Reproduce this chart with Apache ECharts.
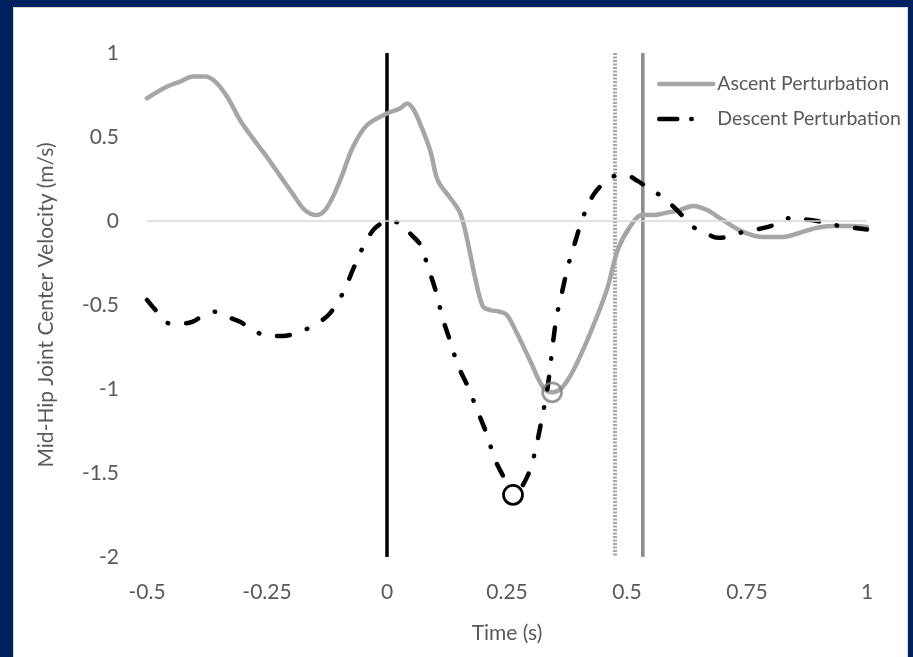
<!DOCTYPE html>
<html>
<head>
<meta charset="utf-8">
<script src="https://cdn.jsdelivr.net/npm/echarts@6/dist/echarts.min.js"></script>
<style>
html,body{margin:0;padding:0;background:#002060;width:913px;height:657px;overflow:hidden;}
#frame{position:absolute;left:13px;top:7px;width:895px;height:650px;background:#d9d9d9;}
#chart{position:absolute;left:14px;top:8px;width:893px;height:649px;background:#ffffff;}
</style>
</head>
<body>
<div id="frame"></div>
<div id="chart"></div>
<script>
// ---- data ----
var seriesNames = ['Ascent Perturbation', 'Descent Perturbation'];
var xTicks = [-0.5, -0.25, 0, 0.25, 0.5, 0.75, 1];
var yTicks = [1, 0.5, 0, -0.5, -1, -1.5, -2];

var ascentTime = [-0.5, -0.458, -0.431, -0.404, -0.379, -0.358, -0.333, -0.306, -0.279, -0.25,
  -0.223, -0.196, -0.171, -0.146, -0.125, -0.098, -0.071, -0.042, 0, 0.027,
  0.042, 0.054, 0.069, 0.09, 0.106, 0.131, 0.152, 0.167, 0.183, 0.2,
  0.215, 0.235, 0.25, 0.271, 0.298, 0.325, 0.344, 0.365, 0.388, 0.423,
  0.458, 0.481, 0.506, 0.531, 0.554, 0.583, 0.604, 0.638, 0.667, 0.7,
  0.742, 0.783, 0.825, 0.86, 0.896, 0.929, 0.965, 1.0];
var ascentVel = [0.73, 0.80, 0.83, 0.86, 0.86, 0.83, 0.74, 0.60, 0.49, 0.38,
  0.27, 0.16, 0.065, 0.035, 0.08, 0.24, 0.44, 0.57, 0.64, 0.67,
  0.70, 0.67, 0.58, 0.42, 0.24, 0.14, 0.05, -0.11, -0.33, -0.51,
  -0.53, -0.54, -0.56, -0.67, -0.83, -0.99, -1.02, -0.99, -0.89, -0.67,
  -0.41, -0.17, -0.035, 0.035, 0.035, 0.05, 0.06, 0.09, 0.065, 0.005,
  -0.065, -0.095, -0.095, -0.07, -0.04, -0.03, -0.03, -0.035];

var descentTime = [-0.5, -0.479, -0.452, -0.427, -0.406, -0.381, -0.358, -0.333, -0.306, -0.285,
  -0.265, -0.24, -0.217, -0.192, -0.165, -0.14, -0.119, -0.092, -0.071, -0.05,
  -0.029, -0.015, 0, 0.017, 0.031, 0.05, 0.069, 0.085, 0.104, 0.115,
  0.131, 0.148, 0.169, 0.19, 0.208, 0.225, 0.246, 0.2625, 0.279, 0.298,
  0.3125, 0.323, 0.333, 0.34, 0.346, 0.354, 0.365, 0.377, 0.392, 0.408,
  0.431, 0.458, 0.479, 0.5, 0.521, 0.548, 0.575, 0.604, 0.638, 0.6625,
  0.69, 0.715, 0.742, 0.794, 0.819, 0.844, 0.871, 0.896, 0.944, 1.0];
var descentVel = [-0.47, -0.54, -0.61, -0.61, -0.60, -0.56, -0.54, -0.57, -0.60, -0.64,
  -0.67, -0.685, -0.685, -0.67, -0.64, -0.60, -0.55, -0.43, -0.29, -0.155,
  -0.055, -0.02, 0.0, -0.005, -0.02, -0.08, -0.14, -0.27, -0.44, -0.57,
  -0.71, -0.86, -0.99, -1.14, -1.27, -1.42, -1.54, -1.63, -1.59, -1.48,
  -1.32, -1.17, -1.02, -0.87, -0.72, -0.56, -0.42, -0.27, -0.125, 0.02,
  0.16, 0.24, 0.27, 0.27, 0.24, 0.19, 0.14, 0.065, -0.035, -0.07,
  -0.10, -0.09, -0.065, -0.035, -0.005, 0.02, 0.01, 0.0, -0.03, -0.05];

// event lines (time of vertical markers)
var eventTimes = [0, 0.475, 0.533];
// peak markers: [descent peak, ascent peak]
var peakTime = [0.2625, 0.344];
var peakVel = [-1.63, -1.02];

// ---- build ----
function pairs(xs, ys) { return xs.map(function (x, i) { return [x, ys[i]]; }); }
var yMin = yTicks[yTicks.length - 1], yMax = yTicks[0];
function vline(t) { return [[t, yMax], [t, yMin]]; }

var FONT = 'Lato';
var TXT = '#595959';

var chart = echarts.init(document.getElementById('chart'), null, {renderer: 'canvas'});
chart.setOption({
  animation: false,
  backgroundColor: '#ffffff',
  textStyle: {fontFamily: FONT},
  grid: {left: 133, right: 40, top: 45, bottom: 100},
  legend: {
    data: [
      {name: seriesNames[0]},
      {name: seriesNames[1], lineStyle: {type: [18, 14, 0.5, 40], cap: 'round', width: 4.5}}
    ],
    orient: 'vertical',
    left: 638,
    top: 61,
    itemWidth: 54,
    itemHeight: 14,
    itemGap: 15,
    itemStyle: {opacity: 0, borderWidth: 0},
    lineStyle: {width: 4.5, cap: 'round'},
    textStyle: {fontFamily: FONT, fontSize: 19.5, color: TXT, padding: [0, 0, 0, -1]}
  },
  xAxis: {
    type: 'value',
    min: xTicks[0],
    max: xTicks[xTicks.length - 1],
    interval: 0.25,
    name: 'Time (s)',
    nameLocation: 'middle',
    nameGap: 66,
    nameTextStyle: {fontFamily: FONT, fontSize: 21, color: TXT},
    axisLine: {show: false, onZero: false},
    axisTick: {show: false},
    splitLine: {show: false},
    axisLabel: {fontFamily: FONT, fontSize: 21, color: TXT, margin: 25}
  },
  yAxis: {
    type: 'value',
    min: yMin,
    max: yMax,
    interval: 0.5,
    name: 'Mid-Hip Joint Center Velocity (m/s)',
    nameLocation: 'middle',
    nameGap: 90,
    nameTextStyle: {fontFamily: FONT, fontSize: 21, color: TXT},
    axisLine: {show: false},
    axisTick: {show: false},
    splitLine: {show: false},
    axisLabel: {fontFamily: FONT, fontSize: 21, color: TXT, margin: 28}
  },
  series: [
    {
      type: 'line', name: 'zero', data: [], silent: true,
      markLine: {
        silent: true, symbol: 'none', label: {show: false},
        lineStyle: {color: '#d9d9d9', width: 1.5, type: 'solid'},
        data: [{yAxis: 0}]
      }
    },
    {
      type: 'line', name: 'ev0', data: vline(eventTimes[0]), showSymbol: false, silent: true,
      lineStyle: {color: '#000000', width: 3.5}
    },
    {
      type: 'line', name: 'ev1', data: vline(eventTimes[1]), showSymbol: false, silent: true,
      lineStyle: {color: '#a6a6a6', width: 4, type: [2, 1.5]}
    },
    {
      type: 'line', name: 'ev2', data: vline(eventTimes[2]), showSymbol: false, silent: true,
      lineStyle: {color: '#8c8c8c', width: 3.5}
    },
    {
      type: 'line', name: seriesNames[0], data: pairs(ascentTime, ascentVel),
      smooth: 0.35, showSymbol: false, symbol: 'none',
      lineStyle: {color: '#a6a6a6', width: 4.5, cap: 'round', join: 'round'},
      itemStyle: {color: '#a6a6a6'}
    },
    {
      type: 'line', name: seriesNames[1], data: pairs(descentTime, descentVel),
      smooth: 0.35, showSymbol: false, symbol: 'none',
      lineStyle: {color: '#000000', width: 4.5, type: [13, 18, 0.5, 18], cap: 'round', join: 'round'},
      itemStyle: {color: '#000000'}
    },
    {
      type: 'scatter', name: 'peakD', data: [[peakTime[0], peakVel[0]]],
      symbol: 'circle', symbolSize: 19, silent: true, z: 10,
      itemStyle: {color: '#ffffff', opacity: 1, borderColor: '#000000', borderWidth: 2.75}
    },
    {
      type: 'scatter', name: 'peakA', data: [[peakTime[1], peakVel[1]]],
      symbol: 'circle', symbolSize: 19, silent: true, z: 10,
      itemStyle: {color: 'rgba(255,255,255,0)', borderColor: '#808080', borderWidth: 2.75}
    }
  ]
});
</script>
</body>
</html>
